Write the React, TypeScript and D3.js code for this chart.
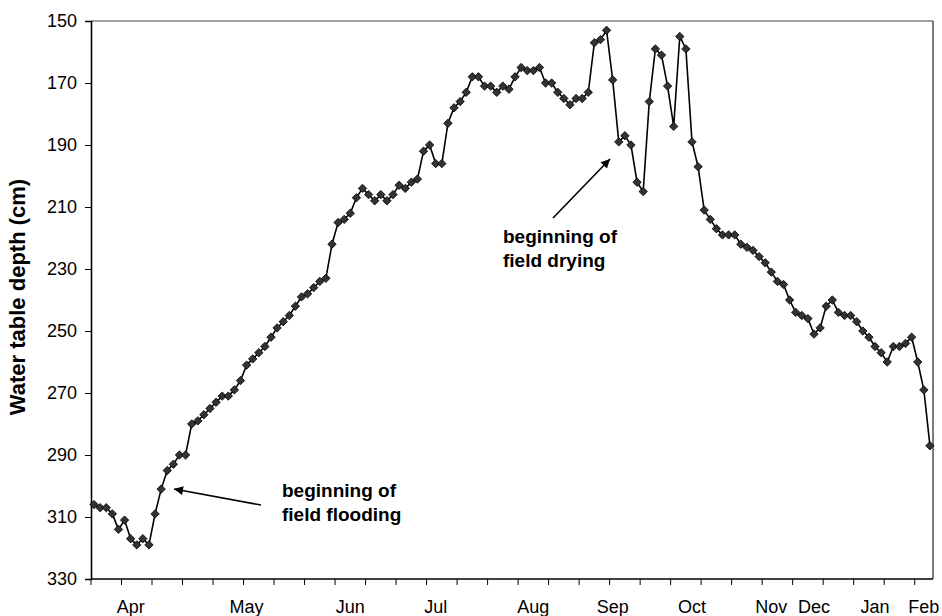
import * as React from 'react'
import * as d3 from 'd3'

// water table depth (cm), one reading per category
const depth: number[] = [
	306, 307, 307, 309, 314, 311, 317, 319, 317, 319,
	309, 301, 295, 293, 290, 290, 280, 279, 277, 275,
	273, 271, 271, 269, 266, 261, 259, 257, 255, 252,
	249, 247, 245, 242, 239, 238, 236, 234, 233, 222,
	215, 214, 212, 207, 204, 206, 208, 206, 208, 206,
	203, 204, 202, 201, 192, 190, 196, 196, 183, 178,
	176, 173, 168, 168, 171, 171, 173, 171, 172, 168,
	165, 166, 166, 165, 170, 170, 173, 175, 177, 175,
	175, 173, 157, 156, 153, 169, 189, 187, 190, 202,
	205, 176, 159, 161, 171, 184, 155, 159, 189, 197,
	211, 214, 217, 219, 219, 219, 222, 223, 224, 226,
	228, 231, 234, 235, 240, 244, 245, 246, 251, 249,
	242, 240, 244, 245, 245, 247, 250, 252, 255, 257,
	260, 255, 255, 254, 252, 260, 269, 287,
]

const monthNames = ['Apr', 'May', 'Jun', 'Jul', 'Aug', 'Sep', 'Oct', 'Nov', 'Dec', 'Jan', 'Feb']
const monthIndex = [6, 25, 42, 56, 72, 85, 98, 111, 118, 128, 136]
const yTicks = [150, 170, 190, 210, 230, 250, 270, 290, 310, 330]

const annotations = [
	{ lines: ['beginning of', 'field flooding'], tx: 282, ty: 497, from: [261, 505], to: [174, 489] },
	{ lines: ['beginning of', 'field drying'], tx: 503, ty: 243, from: [553, 218], to: [610, 159] },
]

const font = '"Liberation Sans", Arial, sans-serif'

function drawChart(svg: d3.Selection<SVGSVGElement, unknown, null, undefined>) {
	const dims = { left: 91, right: 933, top: 21, bottom: 579 }
	svg.selectAll('*').remove()

	const x = d3.scaleBand<number>()
		.domain(depth.map((_, i) => i))
		.range([dims.left, dims.right])
	const cx = (i: number) => x(i)! + x.bandwidth() / 2

	const y = d3.scaleLinear()
		.domain([150, 330])
		.range([dims.top, dims.bottom])

	const defs = svg.append('defs')
	defs.append('marker')
		.attr('id', 'arrowhead')
		.attr('viewBox', '0 0 10 10')
		.attr('refX', 10)
		.attr('refY', 5)
		.attr('markerWidth', 11)
		.attr('markerHeight', 9)
		.attr('markerUnits', 'userSpaceOnUse')
		.attr('orient', 'auto')
		.append('path')
		.attr('d', 'M0,0 L10,5 L0,10 Z')
		.attr('fill', '#000')

	// plot frame: top grey, right dark
	svg.append('line')
		.attr('x1', dims.left).attr('x2', dims.right)
		.attr('y1', dims.top).attr('y2', dims.top)
		.attr('stroke', '#808080').attr('stroke-width', 1.5)
	svg.append('line')
		.attr('x1', dims.right).attr('x2', dims.right)
		.attr('y1', dims.top).attr('y2', dims.bottom)
		.attr('stroke', '#222').attr('stroke-width', 1.2)

	// y axis
	const yAxis = d3.axisLeft(y).tickValues(yTicks).tickSize(6).tickPadding(8)
	const yg = svg.append('g')
		.attr('transform', `translate(${dims.left},0)`)
		.call(yAxis)
	yg.select('.domain').attr('stroke', '#000').attr('stroke-width', 1.6)
	yg.selectAll('.tick line').attr('stroke', '#000')
	yg.selectAll('.tick text')
		.attr('font-family', font)
		.attr('font-size', 18)
		.attr('fill', '#000')

	// x axis: ticks every 5 categories, month names on first reading of month
	const tickCats = d3.range(0, depth.length + 1, 5)
	const xg = svg.append('g')
	xg.append('line')
		.attr('x1', dims.left).attr('x2', dims.right)
		.attr('y1', dims.bottom).attr('y2', dims.bottom)
		.attr('stroke', '#000').attr('stroke-width', 1.6)
	xg.selectAll('line.tick')
		.data(tickCats)
		.enter()
		.append('line')
		.attr('class', 'tick')
		.attr('x1', d => dims.left + d * x.step())
		.attr('x2', d => dims.left + d * x.step())
		.attr('y1', dims.bottom)
		.attr('y2', dims.bottom + 6)
		.attr('stroke', '#000')
	xg.selectAll('text')
		.data(monthNames)
		.enter()
		.append('text')
		.attr('x', (_, i) => cx(monthIndex[i]))
		.attr('y', 613)
		.attr('text-anchor', 'middle')
		.attr('font-family', font)
		.attr('font-size', 18)
		.text(d => d)

	// axis title
	svg.append('text')
		.attr('transform', 'translate(25,297) rotate(-90)')
		.attr('text-anchor', 'middle')
		.attr('font-family', font)
		.attr('font-size', 22)
		.attr('font-weight', 'bold')
		.text('Water table depth (cm)')

	// series
	const line = d3.line<number>()
		.x((_, i) => cx(i))
		.y(d => y(d))
	svg.append('path')
		.datum(depth)
		.attr('d', line)
		.attr('fill', 'none')
		.attr('stroke', '#000')
		.attr('stroke-width', 1.6)

	svg.append('g')
		.selectAll('path')
		.data(depth)
		.enter()
		.append('path')
		.attr('d', 'M0,-4.2 L4.2,0 L0,4.2 L-4.2,0 Z')
		.attr('transform', (d, i) => `translate(${cx(i)},${y(d)})`)
		.attr('fill', '#333')
		.attr('stroke', '#000')
		.attr('stroke-width', 0.8)

	// annotations
	annotations.forEach(a => {
		svg.append('line')
			.attr('x1', a.from[0]).attr('y1', a.from[1])
			.attr('x2', a.to[0]).attr('y2', a.to[1])
			.attr('stroke', '#000')
			.attr('stroke-width', 1.6)
			.attr('marker-end', 'url(#arrowhead)')
		const t = svg.append('text')
			.attr('font-family', font)
			.attr('font-size', 19)
			.attr('font-weight', 'bold')
		a.lines.forEach((l, k) => {
			t.append('tspan').attr('x', a.tx).attr('y', a.ty + k * 24).text(l)
		})
	})
}

const App: React.FC = () => {
	const svgRef = React.useRef<SVGSVGElement>(null)

	React.useEffect(() => {
		if (svgRef.current) drawChart(d3.select(svgRef.current))
	}, [])

	return (
		<svg ref={svgRef} width={942} height={616}
			style={{ position: 'absolute', left: 0, top: 0, background: '#fff' }} />
	)
}

export default App
